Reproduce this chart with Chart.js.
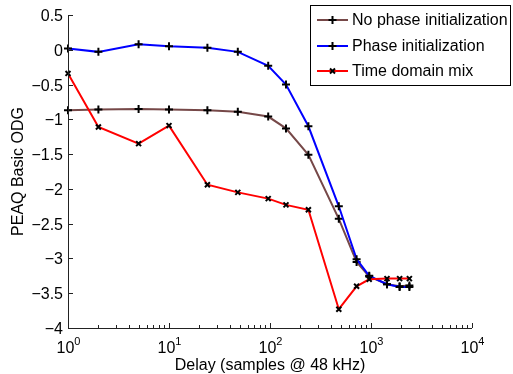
<!DOCTYPE html>
<html>
<head>
<meta charset="utf-8">
<script src="https://cdn.jsdelivr.net/npm/chart.js@4/dist/chart.umd.min.js"></script>
<style>
  html, body { margin: 0; padding: 0; background: #fff; }
  #wrap { width: 513px; height: 374px; }
</style>
</head>
<body>
<div id="wrap"><canvas id="myChart" width="513" height="374"></canvas></div>
<script>
// delay in samples @ 48 kHz
var delays = [1, 2, 5, 10, 24, 48, 96, 144, 240, 480, 720, 960, 1440, 1920, 2400];
var noPhase = [-0.87, -0.86, -0.85, -0.86, -0.87, -0.89, -0.96, -1.13, -1.51, -2.43, -3.05, -3.26, -3.37, -3.40, -3.39];
var phaseInit = [0.02, -0.03, 0.08, 0.05, 0.03, -0.03, -0.23, -0.50, -1.10, -2.25, -3.01, -3.25, -3.37, -3.41, -3.41];
var timeMix = [-0.34, -1.11, -1.35, -1.09, -1.94, -2.05, -2.14, -2.23, -2.30, -3.73, -3.40, -3.30, -3.29, -3.29, -3.29];

var seriesNames = ["No phase initialization", "Phase initialization", "Time domain mix"];
var yTicks = [0.5, 0, -0.5, -1, -1.5, -2, -2.5, -3, -3.5, -4];
var xExponents = [0, 1, 2, 3, 4];

var FONT = "Liberation Sans, Arial, Helvetica, sans-serif";
var brown = "rgb(118,72,72)";

function toPoints(ys) {
    var pts = [];
    for (var i = 0; i < delays.length; i++) {
        pts.push({x: delays[i], y: ys[i]});
    }
    return pts;
}

function fmt(v) {
    var s = String(v);
    return s.replace("-", "\u2212");
}

// axes, ticks, labels and legend drawn MATLAB style
var axesPlugin = {
    id: "matlabAxes",
    afterDraw: function (chart) {
        var ctx = chart.ctx;
        var xs = chart.scales.x;
        var ys = chart.scales.y;
        var a = chart.chartArea;
        ctx.save();
        ctx.strokeStyle = "#222";
        ctx.lineWidth = 1;
        ctx.beginPath();
        ctx.moveTo(a.left + 0.5, a.top);
        ctx.lineTo(a.left + 0.5, a.bottom + 0.5);
        ctx.lineTo(a.right, a.bottom + 0.5);
        ctx.stroke();

        // y ticks
        ctx.fillStyle = "#000";
        ctx.font = "16px " + FONT;
        ctx.textAlign = "right";
        ctx.textBaseline = "middle";
        yTicks.forEach(function (v) {
            var py = Math.round(ys.getPixelForValue(v)) + 0.5;
            ctx.beginPath();
            ctx.moveTo(a.left, py);
            ctx.lineTo(a.left + 5, py);
            ctx.stroke();
            ctx.fillText(fmt(v), a.left - 5, py + 1);
        });

        // x ticks (log)
        xExponents.forEach(function (e, idx) {
            var base = Math.pow(10, e);
            var px = Math.round(xs.getPixelForValue(base)) + 0.5;
            ctx.beginPath();
            ctx.moveTo(px, a.bottom);
            ctx.lineTo(px, a.bottom - 5);
            ctx.stroke();
            if (idx < xExponents.length - 1) {
                for (var m = 2; m <= 9; m++) {
                    var mx = Math.round(xs.getPixelForValue(base * m)) + 0.5;
                    ctx.beginPath();
                    ctx.moveTo(mx, a.bottom);
                    ctx.lineTo(mx, a.bottom - 3);
                    ctx.stroke();
                }
            }
            ctx.font = "16px " + FONT;
            var w1 = ctx.measureText("10").width;
            ctx.font = "11px " + FONT;
            var w2 = ctx.measureText(String(e)).width;
            var start = px - (w1 + w2) / 2;
            ctx.textAlign = "left";
            ctx.textBaseline = "alphabetic";
            ctx.font = "16px " + FONT;
            ctx.fillText("10", start, a.bottom + 25);
            ctx.font = "11px " + FONT;
            ctx.fillText(String(e), start + w1, a.bottom + 17);
        });

        // axis titles
        ctx.font = "16px " + FONT;
        ctx.textAlign = "center";
        ctx.textBaseline = "alphabetic";
        ctx.fillText("Delay (samples @ 48 kHz)", (a.left + a.right) / 2, 370);
        ctx.save();
        ctx.translate(23, (a.top + a.bottom) / 2);
        ctx.rotate(-Math.PI / 2);
        ctx.fillText("PEAQ Basic ODG", 0, 0);
        ctx.restore();

        // legend
        var lx = 310.5, ly = 5.5, lw = 200, lh = 80;
        ctx.fillStyle = "#fff";
        ctx.fillRect(lx, ly, lw, lh);
        ctx.strokeStyle = "#000";
        ctx.strokeRect(lx, ly, lw, lh);
        var colors = [brown, "#0000ff", "#ff0000"];
        var rows = [20, 46, 71];
        for (var i = 0; i < seriesNames.length; i++) {
            var ry = rows[i];
            ctx.strokeStyle = colors[i];
            ctx.lineWidth = 2;
            ctx.beginPath();
            ctx.moveTo(317, ry);
            ctx.lineTo(348, ry);
            ctx.stroke();
            ctx.strokeStyle = "#000";
            ctx.lineWidth = 2;
            ctx.beginPath();
            if (i < 2) {
                ctx.moveTo(328.5, ry); ctx.lineTo(336.5, ry);
                ctx.moveTo(332.5, ry - 4); ctx.lineTo(332.5, ry + 4);
            } else {
                ctx.moveTo(330, ry - 2.5); ctx.lineTo(335, ry + 2.5);
                ctx.moveTo(335, ry - 2.5); ctx.lineTo(330, ry + 2.5);
            }
            ctx.stroke();
            ctx.fillStyle = "#000";
            ctx.font = "16px " + FONT;
            ctx.textAlign = "left";
            ctx.textBaseline = "middle";
            ctx.fillText(seriesNames[i], 352, ry + 1);
        }
        ctx.restore();
    }
};

var data = {
    datasets: [
        {
            label: seriesNames[0],
            data: toPoints(noPhase),
            borderColor: brown,
            borderWidth: 2,
            pointStyle: "cross",
            pointRadius: 4,
            pointBorderColor: "#000",
            pointBorderWidth: 2,
            order: 2,
            clip: false
        },
        {
            label: seriesNames[1],
            data: toPoints(phaseInit),
            borderColor: "#0000ff",
            borderWidth: 2,
            pointStyle: "cross",
            pointRadius: 4,
            pointBorderColor: "#000",
            pointBorderWidth: 2,
            order: 1,
            clip: false
        },
        {
            label: seriesNames[2],
            data: toPoints(timeMix),
            borderColor: "#ff0000",
            borderWidth: 2,
            pointStyle: "crossRot",
            pointRadius: 3.5,
            pointBorderColor: "#000",
            pointBorderWidth: 2,
            order: 0,
            clip: false
        }
    ]
};

var ctx = document.getElementById("myChart").getContext("2d");
var myChart = new Chart(ctx, {
    type: "line",
    data: data,
    options: {
        responsive: false,
        animation: false,
        layout: {padding: {left: 68, right: 41, top: 15, bottom: 46}},
        plugins: {legend: {display: false}, tooltip: {enabled: false}},
        elements: {line: {tension: 0}},
        scales: {
            x: {type: "logarithmic", min: 1, max: 10000, display: false},
            y: {type: "linear", min: -4, max: 0.5, display: false}
        }
    },
    plugins: [axesPlugin]
});
</script>
</body>
</html>
